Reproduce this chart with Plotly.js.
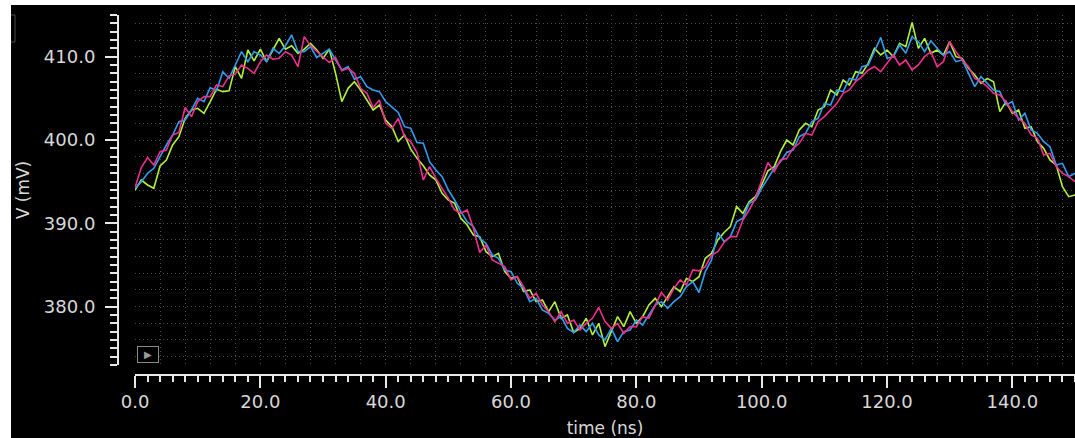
<!DOCTYPE html>
<html>
<head>
<meta charset="utf-8">
<script src="https://cdn.plot.ly/plotly-3.0.1.min.js"></script>
<style>
  html, body { margin: 0; padding: 0; background: #ffffff; width: 1075px; height: 438px; overflow: hidden; }
  #chart { position: absolute; left: 11px; top: 5px; width: 1064px; height: 433px; background: #000; }
</style>
</head>
<body>
<div id="chart"></div>
<script>
// time axis: 0 .. 150 ns, one sample per ns
const tStart = 0;
const tStep = 1;

const seriesGreen = [
  394.0,395.2,394.6,394.2,396.9,397.6,399.4,400.4,402.6,403.6,
  403.8,403.2,404.6,406.1,405.8,405.9,408.8,407.4,410.8,409.5,
  410.9,409.4,410.8,412.2,410.9,411.3,410.4,410.9,411.6,410.8,
  409.8,410.9,408.0,404.6,406.2,407.0,406.0,404.8,403.6,404.2,
  402.4,401.6,399.8,400.6,398.9,397.8,396.9,395.8,395.2,393.6,
  392.8,392.4,390.6,389.8,388.6,388.4,386.6,386.0,386.4,384.2,
  383.4,383.6,381.8,382.0,380.6,380.8,379.4,380.6,378.6,379.0,
  376.9,377.4,378.6,376.6,378.0,375.2,377.0,378.8,377.6,379.4,
  378.0,378.8,380.2,381.0,380.0,381.2,382.4,381.8,383.4,383.0,
  383.6,385.8,386.4,388.0,388.9,389.6,392.0,391.2,392.6,393.2,
  394.6,396.3,396.8,398.6,400.0,399.4,401.2,402.0,401.6,403.6,
  404.0,406.0,405.4,407.2,406.6,408.2,408.0,409.2,411.0,410.2,
  410.8,410.0,411.6,411.2,414.1,411.0,412.2,410.4,410.8,410.2,
  411.8,410.0,409.8,408.6,407.8,406.8,407.4,407.0,403.4,404.6,
  403.2,403.6,401.4,401.6,399.8,399.0,397.6,397.0,394.4,393.2,
  393.4
];

const seriesBlue = [
  394.2,395.0,396.0,396.6,398.0,399.4,400.6,402.2,402.4,403.6,
  405.0,404.6,406.3,405.9,408.2,407.4,409.0,410.6,409.4,410.6,
  410.2,409.4,411.0,410.4,411.3,412.6,410.6,410.6,411.2,409.9,
  410.4,410.9,409.6,408.4,408.8,407.3,407.6,406.4,406.0,405.8,
  404.6,403.9,403.3,401.6,401.4,399.7,399.6,397.4,396.4,395.6,
  394.0,392.8,391.4,390.2,389.6,388.2,387.6,386.2,385.8,384.4,
  384.2,382.8,382.2,380.6,381.0,379.6,379.2,378.4,378.8,377.4,
  376.9,377.8,377.0,378.0,376.6,376.0,377.4,375.8,377.0,377.2,
  378.4,377.8,379.0,380.2,380.6,379.8,380.6,381.2,382.4,383.0,
  381.7,384.2,385.6,388.9,387.8,388.4,390.2,390.6,392.4,392.8,
  394.2,395.4,396.6,397.4,398.5,398.8,400.4,400.8,402.2,402.6,
  404.4,404.2,406.0,405.8,407.4,407.2,408.8,409.0,410.6,412.3,
  409.8,410.0,411.4,410.4,412.4,411.8,410.6,411.9,411.0,410.2,
  410.6,409.4,409.6,408.0,406.4,407.6,406.8,406.0,405.8,404.2,
  404.6,402.4,403.2,401.2,400.8,399.8,399.2,397.0,397.2,395.6,
  396.0
];

const seriesMagenta = [
  394.3,396.7,397.9,397.0,398.6,398.8,400.6,400.9,403.9,402.8,
  404.6,405.2,405.2,406.6,406.4,407.7,407.9,409.0,408.6,408.0,
  409.4,410.2,409.7,409.8,410.6,410.2,408.8,412.4,411.3,410.6,
  409.9,409.3,409.9,408.3,408.6,408.0,406.2,405.6,403.9,404.8,
  402.0,401.4,402.6,400.4,399.8,398.5,395.2,396.8,395.4,394.2,
  393.0,391.6,391.2,391.6,389.4,386.5,387.4,385.6,385.2,384.8,
  383.2,383.6,382.4,381.0,381.6,380.2,379.4,378.2,379.4,378.0,
  378.4,377.2,378.0,378.6,379.9,378.2,377.4,378.0,376.8,377.6,
  377.6,378.8,378.6,380.2,381.7,380.8,382.2,383.2,382.6,384.4,
  384.3,384.8,386.2,386.6,387.7,388.4,388.4,390.4,391.6,393.0,
  395.2,397.3,396.2,397.6,397.8,399.0,399.6,400.8,400.6,402.2,
  402.8,403.6,404.4,405.6,406.0,407.0,407.6,408.4,408.8,408.2,
  409.2,410.2,409.0,409.6,408.4,409.0,410.0,410.6,408.8,409.4,
  411.8,410.6,409.6,408.8,407.4,407.0,406.4,405.6,405.4,404.6,
  403.4,402.6,402.0,400.6,400.2,398.2,398.4,396.8,396.0,395.6,
  395.0
];

const seriesNames = ["trace 1", "trace 2", "trace 3"];
const xTitle = "time (ns)";
const yTitle = "V (mV)";

const colors = ["#b2f23a", "#2f9ef0", "#ee2f8e"];
const allSeries = [seriesGreen, seriesBlue, seriesMagenta];

const traces = allSeries.map((s, i) => ({
  type: "scatter",
  mode: "lines",
  name: seriesNames[i],
  x0: tStart,
  dx: tStep,
  y: s,
  xaxis: "x2",
  yaxis: "y2",
  line: { color: colors[i], width: 1.6 },
  hoverinfo: "x+y"
}));

// empty trace that carries the dotted grid subplot
traces.unshift({ type: "scatter", mode: "lines", x: [null], y: [null], xaxis: "x", yaxis: "y", showlegend: false, hoverinfo: "skip" });

const fontFam = "DejaVu Sans, sans-serif";
const txtCol = "#d8d8d8";
const axCol = "#e8e8e8";

const xRange = [0, 150];
const yRange = [373, 415];

const layout = {
  width: 1064,
  height: 433,
  paper_bgcolor: "#000000",
  plot_bgcolor: "#000000",
  showlegend: false,
  margin: { l: 107, r: 0, t: 10, b: 63 },
  font: { family: fontFam, color: txtCol, size: 15 },
  // grid-only axes
  xaxis: {
    domain: [0.0178, 1], range: xRange, dtick: 4, tick0: 0,
    showgrid: true, griddash: "1px,3px", gridcolor: "#4a4a4a", gridwidth: 1,
    showticklabels: false, ticks: "", showline: false, zeroline: false,
    anchor: "y"
  },
  yaxis: {
    domain: [0.0278, 1], range: yRange, dtick: 2, tick0: 0,
    showgrid: true, griddash: "1px,3px", gridcolor: "#4a4a4a", gridwidth: 1,
    showticklabels: false, ticks: "", showline: false, zeroline: false,
    anchor: "x"
  },
  // visible axes
  xaxis2: {
    overlaying: "x", range: xRange, anchor: "free", position: 0,
    dtick: 20, tick0: 0, tickformat: ".1f",
    ticks: "outside", ticklen: 12, tickwidth: 2, tickcolor: axCol,
    showline: true, linecolor: axCol, linewidth: 2,
    showgrid: false, zeroline: false,
    minor: { dtick: 2, tick0: 0, ticks: "outside", ticklen: 6, tickwidth: 2, tickcolor: axCol, showgrid: false },
    tickfont: { family: fontFam, size: 18, color: txtCol },
    ticklabelstandoff: -2,
    title: { text: xTitle, font: { family: fontFam, size: 17, color: txtCol }, standoff: 11 }
  },
  yaxis2: {
    overlaying: "y", range: yRange, anchor: "free", position: 0,
    dtick: 10, tick0: 0, tickformat: ".1f",
    ticks: "outside", ticklen: 12, tickwidth: 2, tickcolor: axCol,
    showline: true, linecolor: axCol, linewidth: 2,
    showgrid: false, zeroline: false,
    minor: { dtick: 1, tick0: 0, ticks: "outside", ticklen: 7, tickwidth: 2, tickcolor: axCol, showgrid: false },
    tickfont: { family: fontFam, size: 18, color: txtCol },
    ticklabelstandoff: 6,
    title: { text: yTitle, font: { family: fontFam, size: 17, color: txtCol }, standoff: 9 }
  },
  shapes: [
    { type: "rect", xref: "paper", yref: "paper", x0: -0.115, x1: -0.1076, y0: 0.925, y1: 1.0,
      line: { color: "#4a4a4a", width: 1 }, fillcolor: "rgba(0,0,0,0)" }
  ],
  annotations: [
    { xref: "paper", yref: "paper", x: 0.0313, y: 0.0556, xanchor: "center", yanchor: "middle",
      text: "▶", showarrow: false, font: { family: fontFam, size: 10, color: "#9a9a9a" },
      bordercolor: "#8a8a8a", borderwidth: 1, borderpad: 1, width: 18, height: 13, bgcolor: "#000" }
  ]
};

Plotly.newPlot("chart", traces, layout, { staticPlot: true, displayModeBar: false });
</script>
</body>
</html>
